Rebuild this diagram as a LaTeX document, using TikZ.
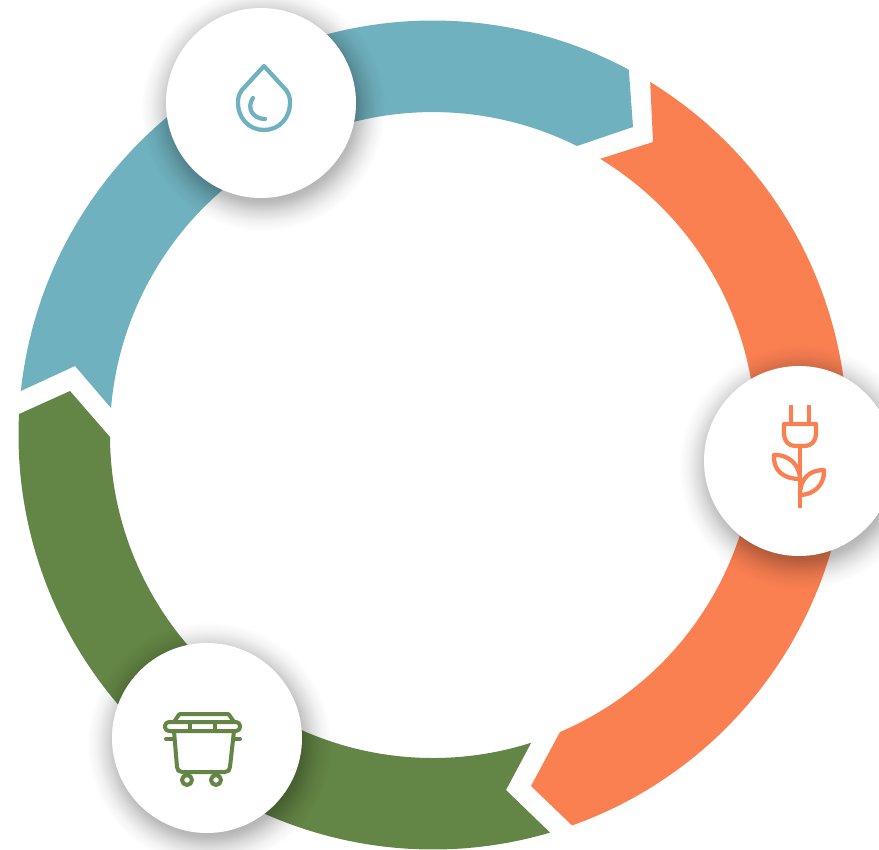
\documentclass[tikz,border=0pt]{standalone}
\usetikzlibrary{fadings}
\definecolor{ringblue}{HTML}{6FB1BE}
\definecolor{ringorange}{HTML}{FA8052}
\definecolor{ringgreen}{HTML}{638545}
\pgfdeclareradialshading{softedge}{\pgfpointorigin}{%
  color(0bp)=(pgftransparent!68); color(17bp)=(pgftransparent!68);
  color(19bp)=(pgftransparent!74); color(21bp)=(pgftransparent!86);
  color(23bp)=(pgftransparent!95); color(25bp)=(pgftransparent!100);
  color(50bp)=(pgftransparent!100)}
\pgfdeclarefading{softshade}{\pgfuseshading{softedge}}
\tikzset{
  disc/.style={circle,fill=white,minimum size=190*0.02cm,inner sep=0pt},
  icon/.style={line width=0.085cm,line cap=round,line join=round},
}
\begin{document}
\begin{tikzpicture}[x=0.02cm,y=0.02cm]
    \useasboundingbox (-433,-414) rectangle (446,435);
    % ring, centre at the origin
    \fill[ringblue] (173.9:414.5) arc[start angle=173.9,end angle=61.8,radius=414.5]
        -- (200,308) -- (144,289) arc[start angle=63.5,end angle=175.2,radius=323]
        -- (-358,69) -- cycle;
    \fill[ringorange] (58.4:414.5) arc[start angle=58.4,end angle=-70.4,radius=414.5]
        -- (98,-351) -- (127,-297) arc[start angle=-66.8,end angle=58.8,radius=323]
        -- (220,293) -- cycle;
    \fill[ringgreen] (-73.6:414.5) arc[start angle=-73.6,end angle=-182.9,radius=414.5]
        -- (-363,44) -- (-323,-2) arc[start angle=-179.65,end angle=-72.3,radius=323]
        -- (73,-355) -- cycle;
    % shadows
    \fill[black,path fading=softshade] (-170,326) circle (122);
    \fill[black,path fading=softshade] (368,-32) circle (122);
    \fill[black,path fading=softshade] (-224,-309) circle (122);
    % discs
    \node[disc] (water) at (-172,332) {};
    \node[disc] (power) at (366,-26) {};
    \node[disc] (waste) at (-226,-303) {};
    % water drop
    \begin{scope}[shift={(water)},icon,draw=ringblue]
        \draw (3,37) -- (-19,13) .. controls (-23,8) and (-23,3) .. (-23,0)
            .. controls (-23,-15) and (-12,-27) .. (3,-27)
            .. controls (18,-27) and (29,-15) .. (29,0)
            .. controls (29,3) and (29,8) .. (25,13) -- cycle;
        \draw (-8,5) .. controls (-15,-5) and (-8,-16) .. (4,-16);
    \end{scope}
    % plug and leaves
    \begin{scope}[shift={(power)},icon,draw=ringorange,line cap=butt]
        \draw (-8,56) -- (-8,37);
        \draw (10,56) -- (10,37);
        \draw (-15,37) -- (17,37) -- (17,27) .. controls (17,20) and (12,15) .. (6,15)
            -- (-4,15) .. controls (-10,15) and (-15,20) .. (-15,27) -- cycle;
        \draw (1,15) -- (1,-47);
        \draw (-25,6) .. controls (-12,7) and (1,-3) .. (1,-18)
            .. controls (-15,-18) and (-26,-10) .. (-25,6) -- cycle;
        \draw (1,-34) .. controls (14,-34) and (26,-24) .. (25,-9)
            .. controls (10,-9) and (1,-18) .. (1,-34) -- cycle;
    \end{scope}
    % bin
    \begin{scope}[shift={(waste)},icon,draw=ringgreen,line width=0.08cm]
        \draw (-33,16) -- (-29,22) .. controls (-28,24) and (-27,24) .. (-26,24)
            -- (20,24) .. controls (21,24) and (22,24) .. (23,22) -- (27,16);
        \draw (-37,16) -- (28,16) .. controls (35,16) and (35,7) .. (28,7)
            -- (-37,7) .. controls (-44,7) and (-44,16) .. (-37,16) -- cycle;
        \draw (-17,16) -- (-17,7);
        \draw (8,16) -- (8,7);
        \draw (-33,7) -- (-30,-29) .. controls (-30,-32) and (-28,-34) .. (-25,-34)
            -- (18,-34) .. controls (21,-34) and (23,-32) .. (23,-29) -- (27,7);
        \draw (-41,-1) -- (-33,-1);
        \draw (26,-1) -- (33,-1);
        \draw (-20,-42) circle (5);
        \draw (9,-42) circle (5);
    \end{scope}
\end{tikzpicture}
\end{document}
